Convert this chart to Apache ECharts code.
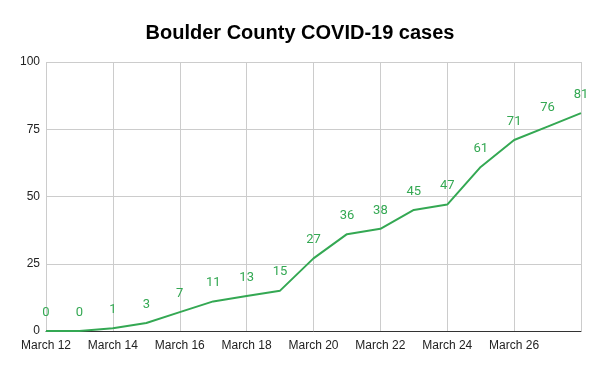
<!DOCTYPE html>
<html><head><meta charset="utf-8">
<script src="https://cdn.jsdelivr.net/npm/echarts@6/dist/echarts.min.js"></script>
<style>html,body{margin:0;padding:0;background:#fff}#c{width:600px;height:371px}</style>
</head><body><div id="c"></div>
<script>
const categories = ["March 12","March 13","March 14","March 15","March 16","March 17","March 18","March 19","March 20","March 21","March 22","March 23","March 24","March 25","March 26","March 27","March 28"];
const cases = [0,0,1,3,7,11,13,15,27,36,38,45,47,61,71,76,81];
const yTicks = [0,25,50,75,100];

const chart = echarts.init(document.getElementById('c'));
chart.setOption({
  animation:false,
  title:{text:'Boulder County COVID-19 cases',left:'center',top:18,
    textStyle:{fontFamily:'Liberation Sans, Arial',fontSize:20,fontWeight:'bold',color:'#000'}},
  grid:{left:46,right:19,top:62,bottom:40,containLabel:false},
  xAxis:{type:'category',data:categories,boundaryGap:false,
    axisLine:{lineStyle:{color:'#333',width:1}},
    axisTick:{show:false},
    axisLabel:{interval:1,showMaxLabel:false,color:'#222',fontFamily:'Liberation Sans, Arial',fontSize:12,margin:9,
      formatter:(v,i)=> i===categories.length-1?'':v},
    splitLine:{show:true,interval:1,lineStyle:{color:'#ccc',width:1}}},
  yAxis:{type:'value',min:yTicks[0],max:yTicks[yTicks.length-1],interval:25,
    axisLine:{show:false},axisTick:{show:false},
    axisLabel:{color:'#222',fontFamily:'Liberation Sans, Arial',fontSize:12,margin:6},
    splitLine:{lineStyle:{color:'#ccc',width:1}}},
  series:[{type:'line',data:cases,symbol:'circle',symbolSize:2,showSymbol:true,
    itemStyle:{color:'rgba(0,0,0,0)',borderWidth:0},
    lineStyle:{color:'#34a853',width:2},
    label:{show:true,position:'top',distance:11,color:'#34a853',fontFamily:'Roboto, Noto Sans',fontSize:13},
    z:5}]
});
</script></body></html>
